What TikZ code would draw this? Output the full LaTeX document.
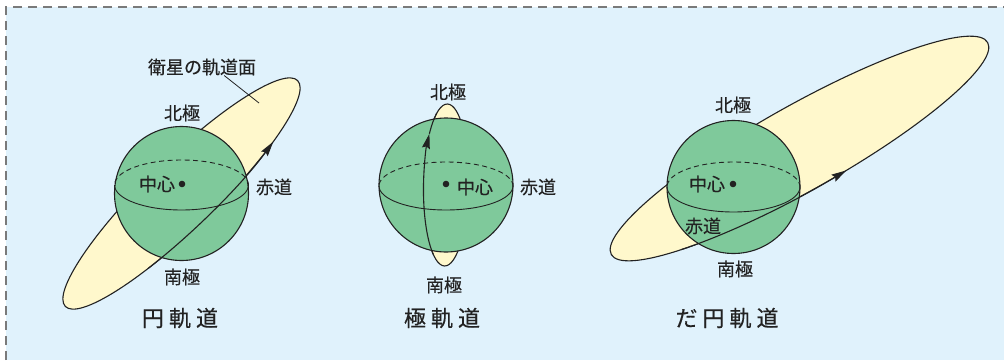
\documentclass[tikz,border=0pt]{standalone}
\usepackage{fontspec}
\newfontfamily\jpfont[FakeBold=0.4]{Noto Sans CJK JP}
\usetikzlibrary{arrows.meta}
\definecolor{bgblue}{HTML}{E0F2FC}
\definecolor{earthgreen}{HTML}{7FC99B}
\definecolor{orbityellow}{HTML}{FFF8CC}
\definecolor{framegray}{HTML}{7A7A7A}
\definecolor{ink}{HTML}{222222}

\begin{document}
\begin{tikzpicture}[x=1pt, y=1pt,
    every node/.style={font=\jpfont\fontsize{18}{18}\selectfont, text=ink, inner sep=0pt},
    title/.style={font=\jpfont\fontsize{22}{22}\selectfont},
    earth/.style={fill=earthgreen, draw=ink, line width=1.1pt},
    orbit/.style={fill=orbityellow, draw=ink, line width=1.1pt},
    track/.style={draw=ink, line width=1.1pt},
    equator/.style={draw=ink, line width=0.9pt},
    probe/.style={-{Stealth[length=15pt, width=8pt, inset=2pt]}}]
    \useasboundingbox (0,0) rectangle (1004,360);
    \fill[bgblue] (6,0) rectangle (1004,353);
    \draw[framegray, line width=2pt, dash pattern=on 9pt off 6pt] (6,0) -- (6,353) -- (1004,353);

    % circular orbit
    \coordinate (c1) at (181.5,166.5);
    \coordinate (e1) at (181.5,175);
    \filldraw[orbit, rotate around={44.2:(c1)}] (c1) ellipse [x radius=162, y radius=34.5];
    \filldraw[earth] (c1) circle [radius=67];
    \draw[equator, dash pattern=on 5pt off 3.5pt] (e1) ++(0:67 and 25) arc [start angle=0, end angle=180, x radius=67, y radius=25];
    \draw[equator] (e1) ++(180:67 and 25) arc [start angle=180, end angle=360, x radius=67, y radius=25];
    \draw[track, probe, rotate around={44.2:(c1)}] (c1) ++(-118:162 and 34.5) arc [start angle=-118, end angle=-51, x radius=162, y radius=34.5];
    \fill[ink] (182,176) circle [radius=3.3];
    \node (plane1) at (202,293) {衛星の軌道面};
    \coordinate (lead1) at (259,257);
    \draw[ink, line width=0.8pt] ([xshift=-32pt]plane1.south east) -- (lead1);
    \node (north1) at (182,247) {北極};
    \node (south1) at (182,83) {南極};
    \node (eq1) at (274,173) {赤道};
    \node (ctr1) at (157,176) {中心};
    \node[title] (name1) at (180,42) {円\hspace{5pt}軌\hspace{5pt}道};

    % polar orbit
    \coordinate (c2) at (446,175);
    \coordinate (e2) at (446,174);
    \filldraw[orbit, rotate around={-1:(c2)}] (c2) ellipse [x radius=22.5, y radius=81];
    \filldraw[earth] (c2) circle [radius=67];
    \draw[equator, dash pattern=on 5pt off 3.5pt] (e2) ++(0:67 and 24) arc [start angle=0, end angle=180, x radius=67, y radius=24];
    \draw[equator] (e2) ++(180:67 and 24) arc [start angle=180, end angle=360, x radius=67, y radius=24];
    \draw[track, probe, rotate around={-1:(c2)}] (c2) ++(240:22.5 and 81) arc [start angle=240, end angle=141, x radius=22.5, y radius=81];
    \draw[track, rotate around={-1:(c2)}] (c2) ++(141:22.5 and 81) arc [start angle=141, end angle=118, x radius=22.5, y radius=81];
    \fill[ink] (446,176) circle [radius=3.3];
    \node (north2) at (448,268) {北極};
    \node (south2) at (444,75) {南極};
    \node (eq2) at (538,173) {赤道};
    \node (ctr2) at (475,173) {中心};
    \node[title] (name2) at (442,42) {極\hspace{5pt}軌\hspace{5pt}道};

    % elliptical orbit
    \coordinate (c3) at (733.5,173);
    \coordinate (o3) at (799.5,211.5);
    \filldraw[orbit, rotate around={29.4:(o3)}] (o3) ellipse [x radius=216, y radius=42.5];
    \filldraw[earth] (c3) circle [radius=66.5];
    \draw[equator, dash pattern=on 5pt off 3.5pt] (c3) ++(0:66.5 and 25) arc [start angle=0, end angle=180, x radius=66.5, y radius=25];
    \draw[equator] (c3) ++(180:66.5 and 25) arc [start angle=180, end angle=360, x radius=66.5, y radius=25];
    \draw[track, probe, rotate around={29.4:(o3)}] (o3) ++(-135:216 and 42.5) arc [start angle=-135, end angle=-82, x radius=216, y radius=42.5];
    \fill[ink] (733,176) circle [radius=3.3];
    \node (north3) at (733,255) {北極};
    \node (south3) at (735,91) {南極};
    \node (eq3) at (703,134) {赤道};
    \node (ctr3) at (707,176) {中心};
    \node[title] (name3) at (727,42) {だ\hspace{5pt}円\hspace{5pt}軌\hspace{5pt}道};
\end{tikzpicture}
\end{document}
